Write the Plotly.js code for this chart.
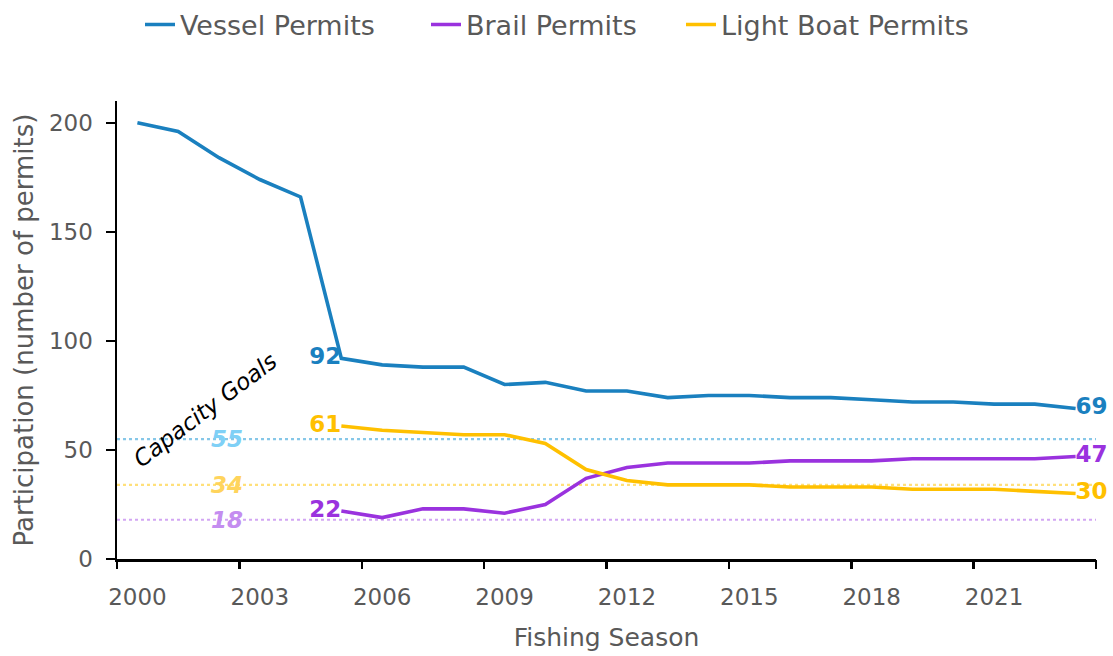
<!DOCTYPE html>
<html>
<head>
<meta charset="utf-8">
<script src="https://cdn.plot.ly/plotly-3.0.1.min.js"></script>
<style>html,body{margin:0;padding:0;background:#fff;}#chart{width:1113px;height:656px;}</style>
</head>
<body>
<div id="chart"></div>
<script>
// ---- data ----
const years = [2000,2001,2002,2003,2004,2005,2006,2007,2008,2009,2010,2011,2012,2013,2014,2015,2016,2017,2018,2019,2020,2021,2022,2023];
const vesselPermits = [200,196,184,174,166,92,89,88,88,80,81,77,77,74,75,75,74,74,73,72,72,71,71,69];
const brailPermits = [null,null,null,null,null,22,19,23,23,21,25,37,42,44,44,44,45,45,45,46,46,46,46,47];
const lightBoatPermits = [null,null,null,null,null,61,59,58,57,57,53,41,36,34,34,34,33,33,33,32,32,32,31,30];
const seriesNames = ["Vessel Permits","Brail Permits","Light Boat Permits"];
const labelYears = [2005, 2023];
const goalValues = [55,34,18];
const tickLabels = ["2000","2003","2006","2009","2012","2015","2018","2021"];
const yTicks = [0,50,100,150,200];

// ---- style ----
const lineColors = ["#1a80bf","#9a32de","#ffc000"];
const goalLineColors = ["#86c7e8","#ffe07a","#d2a6f3"];
const goalLabelColors = ["#7fd0f6","#ffd45c","#c48df0"];
const FONT = "DejaVu Sans, Verdana, sans-serif";
const GREY = "#595959";

const lastYear = years[years.length-1];
function endLabels(vals){
  const text = vals.map((v,i) => (labelYears.includes(years[i]) && v !== null) ? String(v) : "");
  const pos = vals.map((v,i) => years[i] === lastYear ? "middle right" : "middle left");
  return {text, pos};
}

const allSeries = [vesselPermits, brailPermits, lightBoatPermits];
const legendIds = ["legend","legend2","legend3"];
const traces = allSeries.map((vals, k) => {
  const lab = endLabels(vals);
  return {
    x: years, y: vals, name: seriesNames[k], type: "scatter",
    mode: "lines+text",
    line: {color: lineColors[k], width: 3.6},
    text: lab.text, textposition: lab.pos,
    textfont: {family: FONT, size: 23, color: lineColors[k], weight: 700},
    cliponaxis: false, connectgaps: false, hoverinfo: "skip",
    legend: legendIds[k]
  };
});
// empty helper trace so the tick-mark axis (category boundaries) is drawn
traces.push({x: [], y: [], xaxis: "x2", type: "scatter", mode: "lines", showlegend: false, hoverinfo: "skip"});

const labelVals = tickLabels.map(Number);
const boundaryVals = labelVals.map(y => y - 0.5).concat([lastYear + 0.5]);
const xRange = [years[0]-0.5, lastYear+0.5];

const shapes = goalValues.map((g,k) => ({
  type: "line", xref: "x domain", x0: 0, x1: 1, yref: "y", y0: g, y1: g,
  line: {color: goalLineColors[k], width: 2.2, dash: "dot"}, layer: "below"
}));

const annotations = goalValues.map((g,k) => ({
  x: 2002.2, y: g, xref: "x", yref: "y", text: "<b><i>" + g + "</i></b>", showarrow: false,
  font: {family: FONT, size: 23, color: goalLabelColors[k]}, xanchor: "center", yanchor: "middle"
}));
annotations.push({
  x: 2001.66, y: 68.3, xref: "x", yref: "y", text: "<i>Capacity Goals</i>", showarrow: false,
  textangle: -37, font: {family: FONT, size: 23, color: "#000"}, xanchor: "center", yanchor: "middle"
});

const legendBase = {orientation: "h", xref: "container", yref: "container", xanchor: "left", yanchor: "middle",
  y: 1 - 25/656, font: {family: FONT, size: 27, color: GREY}, bgcolor: "rgba(0,0,0,0)", borderwidth: 0};
const legendX = [140, 426, 681];

const layout = {
  width: 1113, height: 656,
  margin: {l: 117, r: 17, t: 101, b: 97},
  paper_bgcolor: "#fff", plot_bgcolor: "#fff",
  showlegend: true,
  legend: Object.assign({}, legendBase, {x: legendX[0]/1113}),
  legend2: Object.assign({}, legendBase, {x: legendX[1]/1113}),
  legend3: Object.assign({}, legendBase, {x: legendX[2]/1113}),
  xaxis: {
    range: xRange, tickmode: "array", tickvals: labelVals, ticktext: tickLabels,
    ticks: "", showline: true, linecolor: "#000", linewidth: 2.5, showgrid: false, zeroline: false,
    ticklabelstandoff: 16,
    tickfont: {family: FONT, size: 23, color: GREY},
    title: {text: "Fishing Season", font: {family: FONT, size: 25, color: GREY}, standoff: 20},
    automargin: false, fixedrange: true
  },
  xaxis2: {
    overlaying: "x", anchor: "y", side: "bottom", range: xRange,
    tickmode: "array", tickvals: boundaryVals, showticklabels: false,
    ticks: "outside", ticklen: 9, tickwidth: 2.5, tickcolor: "#000",
    showline: false, showgrid: false, zeroline: false, fixedrange: true
  },
  yaxis: {
    range: [0, 210], tickmode: "array", tickvals: yTicks,
    ticks: "outside", ticklen: 9, tickwidth: 2.5, tickcolor: "#000",
    showline: true, linecolor: "#000", linewidth: 2.5, showgrid: false, zeroline: false,
    ticklabelstandoff: 8,
    tickfont: {family: FONT, size: 23, color: GREY},
    title: {text: "Participation (number of permits)", font: {family: FONT, size: 26, color: GREY}, standoff: 8},
    automargin: false, fixedrange: true
  },
  shapes: shapes,
  annotations: annotations
};

Plotly.newPlot("chart", traces, layout, {displayModeBar: false, staticPlot: true});
</script>
</body>
</html>
